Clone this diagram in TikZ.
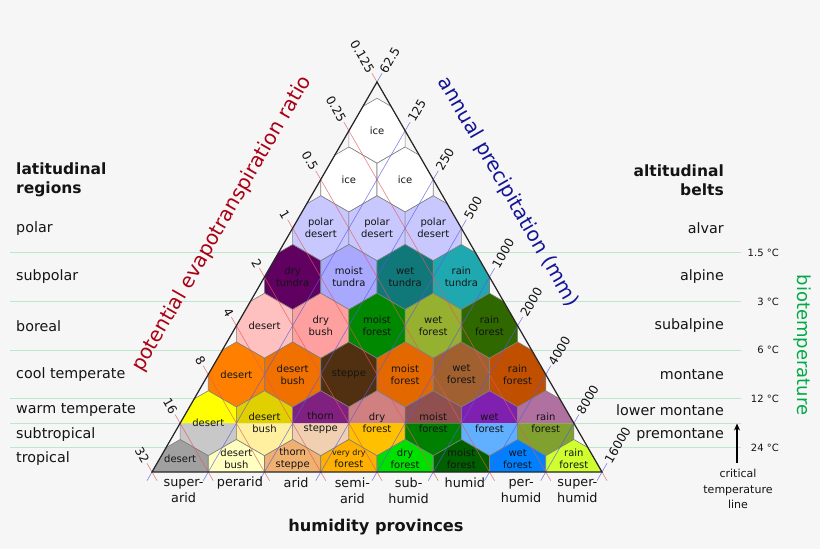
\documentclass[tikz,border=0pt]{standalone}
\usepackage{fontspec}
\setmainfont{DejaVu Sans}
\usetikzlibrary{arrows.meta}
\definecolor{bgc}{RGB}{246,246,246}
\definecolor{hexgray}{RGB}{128,128,128}
\definecolor{polardes}{RGB}{200,200,255}
\definecolor{drytun}{RGB}{96,0,96}
\definecolor{moisttun}{RGB}{168,168,255}
\definecolor{wettun}{RGB}{16,120,120}
\definecolor{raintun}{RGB}{32,168,176}
\definecolor{bdes}{RGB}{255,192,192}
\definecolor{bbush}{RGB}{255,160,160}
\definecolor{bmoist}{RGB}{0,136,0}
\definecolor{bwet}{RGB}{150,176,48}
\definecolor{brain}{RGB}{48,104,0}
\definecolor{cdes}{RGB}{255,128,0}
\definecolor{cbush}{RGB}{240,112,0}
\definecolor{csteppe}{RGB}{80,48,16}
\definecolor{cmoist}{RGB}{228,104,0}
\definecolor{cwet}{RGB}{160,96,48}
\definecolor{crain}{RGB}{192,80,0}
\definecolor{wdes}{RGB}{255,255,0}
\definecolor{wbush}{RGB}{224,208,0}
\definecolor{wthorn}{RGB}{128,32,128}
\definecolor{wdry}{RGB}{208,128,128}
\definecolor{wmoist}{RGB}{144,80,80}
\definecolor{wwet}{RGB}{128,32,176}
\definecolor{wrain}{RGB}{176,112,160}
\definecolor{sdes}{RGB}{200,200,200}
\definecolor{sbush}{RGB}{255,240,160}
\definecolor{sthorn}{RGB}{240,208,176}
\definecolor{sdry}{RGB}{255,192,0}
\definecolor{smoist}{RGB}{0,128,0}
\definecolor{swet}{RGB}{96,176,255}
\definecolor{srain}{RGB}{128,160,48}
\definecolor{tdes}{RGB}{160,160,160}
\definecolor{tbush}{RGB}{255,255,192}
\definecolor{tthorn}{RGB}{240,176,112}
\definecolor{tvdry}{RGB}{255,176,0}
\definecolor{tdry}{RGB}{0,224,0}
\definecolor{tmoist}{RGB}{0,96,0}
\definecolor{twet}{RGB}{0,128,255}
\definecolor{train}{RGB}{208,255,48}
\definecolor{petc}{RGB}{170,0,20}
\definecolor{prec}{RGB}{20,20,150}
\definecolor{bioc}{RGB}{0,170,70}
\definecolor{tline}{RGB}{190,230,205}
\definecolor{redl}{RGB}{225,90,90}
\definecolor{bluel}{RGB}{90,90,225}
\definecolor{txt}{RGB}{20,20,20}

\newcommand\hexcell[3]{%
  \filldraw[hexline, fill=#3] ({#1-28.125},{#2-16.25}) -- (#1,{#2-32.5}) -- ({#1+28.125},{#2-16.25})
    -- ({#1+28.125},{#2+16.25}) -- (#1,{#2+32.5}) -- ({#1-28.125},{#2+16.25}) -- cycle;}
\newcommand\splithex[3]{%
  \fill[#2] ({#1-28.125},423.25) -- ({#1-28.125},407) -- (#1,390.75) -- ({#1+28.125},407) -- ({#1+28.125},423.25) -- cycle;
  \fill[#3] ({#1-28.125},423.25) -- ({#1-28.125},439.5) -- (#1,455.75) -- ({#1+28.125},439.5) -- ({#1+28.125},423.25) -- cycle;
  \draw[hexline] ({#1-28.125},407) -- (#1,390.75) -- ({#1+28.125},407)
    -- ({#1+28.125},439.5) -- (#1,455.75) -- ({#1-28.125},439.5) -- cycle;}

\tikzset{
  hexline/.style={draw=hexgray, line width=0.6pt},
  hexlab/.style={font=\fontsize{10}{12}\selectfont, align=center, text=txt, inner sep=0pt},
  sidelab/.style={font=\fontsize{14.3}{17}\selectfont, text=txt, inner sep=0pt},
  headlab/.style={font=\bfseries\fontsize{15.5}{19}\selectfont, text=txt, inner sep=0pt},
  botlab/.style={font=\fontsize{12.8}{16}\selectfont, align=center, text=txt, inner sep=0pt},
  ticklab/.style={font=\fontsize{12.3}{14}\selectfont, text=txt, inner sep=0.5pt},
  templab/.style={font=\fontsize{10}{12}\selectfont, text=txt, inner sep=0pt, anchor=east},
  templine/.style={draw=tline, line width=0.8pt},
  petline/.style={draw=redl, line width=0.6pt, opacity=0.75},
  precline/.style={draw=bluel, line width=0.6pt, opacity=0.75},
  triline/.style={draw=black!85, line width=1.2pt, line join=miter},
}

\begin{document}
\begin{tikzpicture}[x=1pt,y=-1pt]
\useasboundingbox[fill=bgc] (0,0) rectangle (820,549);

% temperature lines
\foreach \yy in {252.625,301.375,350.125,398.875,423.25,447.625}
  \draw[templine] (10,\yy) -- (741,\yy);

\coordinate (A) at (377,82);
\coordinate (L) at (152,472);
\coordinate (Rc) at (602,472);

\begin{scope}
\clip (A) -- (L) -- (Rc) -- cycle;
\hexcell{377}{130.75}{white}
\foreach \xx in {348.875,405.125} {\hexcell{\xx}{179.5}{white}}
\foreach \xx in {320.75,377,433.25} {\hexcell{\xx}{228.25}{polardes}}
\foreach \xx/\cc in {292.625/drytun,348.875/moisttun,405.125/wettun,461.375/raintun} {\hexcell{\xx}{277}{\cc}}
\foreach \xx/\cc in {264.5/bdes,320.75/bbush,377/bmoist,433.25/bwet,489.5/brain} {\hexcell{\xx}{325.75}{\cc}}
\foreach \xx/\cc in {236.375/cdes,292.625/cbush,348.875/csteppe,405.125/cmoist,461.375/cwet,517.625/crain} {\hexcell{\xx}{374.5}{\cc}}
\foreach \xx/\ua/\lb in {208.25/wdes/sdes,264.5/wbush/sbush,320.75/wthorn/sthorn,377/wdry/sdry,433.25/wmoist/smoist,489.5/wwet/swet,545.75/wrain/srain} {\splithex{\xx}{\ua}{\lb}}
\foreach \xx/\cc in {180.125/tdes,236.375/tbush,292.625/tthorn,348.875/tvdry,405.125/tdry,461.375/tmoist,517.625/twet,573.875/train} {\hexcell{\xx}{472}{\cc}}
\end{scope}

% PET and precipitation lines
\foreach \k in {0,...,8} {
  \draw[petline] ({377-28.125*\k-5},{82+48.75*\k-8.66}) -- ({602-56.25*\k+5},480.66);
  \draw[precline] ({377+28.125*\k+5},{82+48.75*\k-8.66}) -- ({152+56.25*\k-5},480.66);
}

\draw[triline] (A) -- (L) -- (Rc) -- cycle;

% axis tick labels
\foreach \k/\lab in {0/0.125,1/0.25,2/0.5,3/1,4/2,5/4,6/8,7/16,8/32}
  \node[ticklab, rotate=-60, anchor=east] (pl\k) at ({377-28.125*\k-5.5},{82+48.75*\k-9.5}) {\lab};
\foreach \k/\lab in {0/62.5,1/125,2/250,3/500,4/1000,5/2000,6/4000,7/8000,8/16000}
  \node[ticklab, rotate=60, anchor=west] (pr\k) at ({377+28.125*\k+5.5},{82+48.75*\k-9.5}) {\lab};

% hexagon labels
\node[hexlab] (h11) at (377,130.75) {ice};
\node[hexlab] (h21) at (348.875,179.5) {ice};
\node[hexlab] (h22) at (405.125,179.5) {ice};
\node[hexlab] (h31) at (320.75,228) {polar\\desert};
\node[hexlab] (h32) at (377,228) {polar\\desert};
\node[hexlab] (h33) at (433.25,228) {polar\\desert};
\node[hexlab] (h41) at (292.625,277) {dry\\tundra};
\node[hexlab] (h42) at (348.875,277) {moist\\tundra};
\node[hexlab] (h43) at (405.125,277) {wet\\tundra};
\node[hexlab] (h44) at (461.375,277) {rain\\tundra};
\node[hexlab] (h51) at (264.5,325.75) {desert};
\node[hexlab] (h52) at (320.75,325.75) {dry\\bush};
\node[hexlab] (h53) at (377,325.75) {moist\\forest};
\node[hexlab] (h54) at (433.25,325.75) {wet\\forest};
\node[hexlab] (h55) at (489.5,325.75) {rain\\forest};
\node[hexlab] (h61) at (236.375,374.5) {desert};
\node[hexlab] (h62) at (292.625,374.5) {desert\\bush};
\node[hexlab] (h63) at (348.875,374.5) {steppe};
\node[hexlab] (h64) at (405.125,374.5) {moist\\forest};
\node[hexlab] (h65) at (461.375,374.5) {wet\\forest};
\node[hexlab] (h66) at (517.625,374.5) {rain\\forest};
\node[hexlab] (h71) at (208.25,423) {desert};
\node[hexlab] (h72) at (264.5,423) {desert\\bush};
\node[hexlab] (h73) at (320.75,423) {thorn\\steppe};
\node[hexlab] (h74) at (377,423) {dry\\forest};
\node[hexlab] (h75) at (433.25,423) {moist\\forest};
\node[hexlab] (h76) at (489.5,423) {wet\\forest};
\node[hexlab] (h77) at (545.75,423) {rain\\forest};
\node[hexlab] (h81) at (180.125,459) {desert};
\node[hexlab] (h82) at (236.375,459) {desert\\bush};
\node[hexlab] (h83) at (292.625,459) {thorn\\steppe};
\node[hexlab] (h84) at (348.875,459) {{\fontsize{8}{12}\selectfont very dry}\\forest};
\node[hexlab] (h85) at (405.125,459) {dry\\forest};
\node[hexlab] (h86) at (461.375,459) {moist\\forest};
\node[hexlab] (h87) at (517.625,459) {wet\\forest};
\node[hexlab] (h88) at (573.875,459) {rain\\forest};

% humidity provinces
\node[botlab] (b1) at (183.6,491) {super-\\arid};
\node[botlab] (b2) at (239.9,483) {perarid};
\node[botlab] (b3) at (296.1,483) {arid};
\node[botlab] (b4) at (352.4,491) {semi-\\arid};
\node[botlab] (b5) at (408.6,491) {sub-\\humid};
\node[botlab] (b6) at (464.9,483) {humid};
\node[botlab] (b7) at (521.1,491) {per-\\humid};
\node[botlab] (b8) at (577.4,491) {super-\\humid};
\node[font=\bfseries\fontsize{16.2}{19}\selectfont, text=txt, inner sep=0pt] (hp) at (376,527) {humidity provinces};

% left: latitudinal regions
\node[headlab, anchor=west, align=left] (latr) at (16,180) {latitudinal\\regions};
\node[sidelab, anchor=west] (l1) at (16,228.5) {polar};
\node[sidelab, anchor=west] (l2) at (16,277) {subpolar};
\node[sidelab, anchor=west] (l3) at (16,325.75) {boreal};
\node[sidelab, anchor=west] (l4) at (16,374.5) {cool temperate};
\node[sidelab, anchor=west] (l5) at (16,410) {warm temperate};
\node[sidelab, anchor=west] (l6) at (16,434.5) {subtropical};
\node[sidelab, anchor=west] (l7) at (16,459) {tropical};

% right: altitudinal belts
\node[headlab, anchor=east, align=right] (altb) at (724,180) {altitudinal\\belts};
\node[sidelab, anchor=east] (r1) at (724,228.5) {alvar};
\node[sidelab, anchor=east] (r2) at (724,277) {alpine};
\node[sidelab, anchor=east] (r3) at (724,325.75) {subalpine};
\node[sidelab, anchor=east] (r4) at (724,374.5) {montane};
\node[sidelab, anchor=east] (r5) at (724,410) {lower montane};
\node[sidelab, anchor=east] (r6) at (724,434.5) {premontane};

% temperature labels
\node[templab] (t1) at (779,252.6) {1.5 °C};
\node[templab] (t2) at (779,301.4) {3 °C};
\node[templab] (t3) at (779,350.1) {6 °C};
\node[templab] (t4) at (779,398.9) {12 °C};
\node[templab] (t5) at (779,447.6) {24 °C};

% critical temperature line
\node[font=\fontsize{11}{15.5}\selectfont, align=center, text=txt, inner sep=0pt] (crit) at (738,489) {critical\\temperature\\line};
\coordinate (ctb) at (737,463);
\coordinate (ctt) at (737,423.5);
\draw[line width=1.3pt, -{Stealth[length=7pt,width=6pt]}] (ctb) -- (ctt);

% axis titles
\node[rotate=60, text=petc, font=\fontsize{20}{24}\selectfont, inner sep=0pt] (pett) at (222,224) {potential evapotranspiration ratio};
\node[rotate=-60, text=prec, font=\fontsize{20}{24}\selectfont, inner sep=0pt] (prct) at (508,192) {annual precipitation (mm)};
\node[rotate=-90, text=bioc, font=\fontsize{18}{22}\selectfont, inner sep=0pt] (biot) at (802,345) {biotemperature};
\end{tikzpicture}
\end{document}
